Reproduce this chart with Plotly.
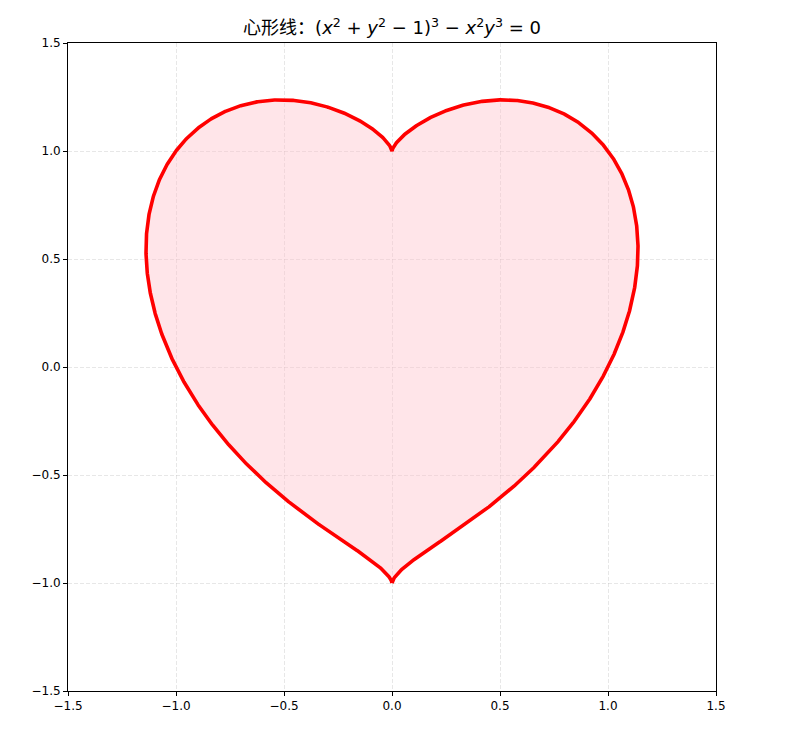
import numpy as np
import plotly.graph_objects as go

# Curve definition from the title: (x^2 + y^2 - 1)^3 - x^2 y^3 = 0
title_text = "心形线：(<i>x</i><sup>2</sup> + <i>y</i><sup>2</sup> − 1)<sup>3</sup> − <i>x</i><sup>2</sup><i>y</i><sup>3</sup> = 0"
tick_vals = [-1.5, -1.0, -0.5, 0.0, 0.5, 1.0, 1.5]
tick_text = ["−1.5", "−1.0", "−0.5", "0.0", "0.5", "1.0", "1.5"]
axis_range = [-1.5, 1.5]

# Solve the implicit equation along rays (polar form) by bisection
theta = np.linspace(-np.pi / 2, 3 * np.pi / 2, 2001)
c, s = np.cos(theta), np.sin(theta)
lo = np.zeros_like(theta)
hi = np.full_like(theta, 2.0)
for _ in range(60):
    mid = (lo + hi) / 2
    f = (mid**2 - 1) ** 3 - mid**5 * c**2 * s**3
    neg = f < 0
    lo = np.where(neg, mid, lo)
    hi = np.where(neg, hi, mid)
r = (lo + hi) / 2
x = r * c
y = r * s

fig = go.Figure()
fig.add_trace(go.Scatter(x=x, y=y, mode="lines", fill="toself",
                         fillcolor="rgba(255,192,203,0.42)",
                         line=dict(color="#ff0000", width=3.6),
                         hoverinfo="skip", showlegend=False))

axis_common = dict(range=axis_range, tickvals=tick_vals, ticktext=tick_text,
                   showgrid=True, gridcolor="rgba(176,176,176,0.3)", griddash="4px,2px",
                   gridwidth=1, zeroline=False, showline=True, linecolor="black",
                   linewidth=1, mirror=True, ticks="outside", ticklen=4,
                   tickcolor="black", tickfont=dict(size=12, color="black",
                   family="DejaVu Sans, Noto Sans CJK SC"))

fig.update_layout(
    width=785, height=729,
    paper_bgcolor="white", plot_bgcolor="white",
    margin=dict(l=60, r=77, t=35, b=46),
    title=dict(text=title_text, x=0.5, xanchor="center", xref="paper",
               y=1 - 20 / 729, yref="container", yanchor="middle",
               font=dict(size=18, color="black",
                         family="DejaVu Sans, Noto Sans CJK SC")),
    xaxis=axis_common,
    yaxis=axis_common,
)

fig.write_html("out.html")
